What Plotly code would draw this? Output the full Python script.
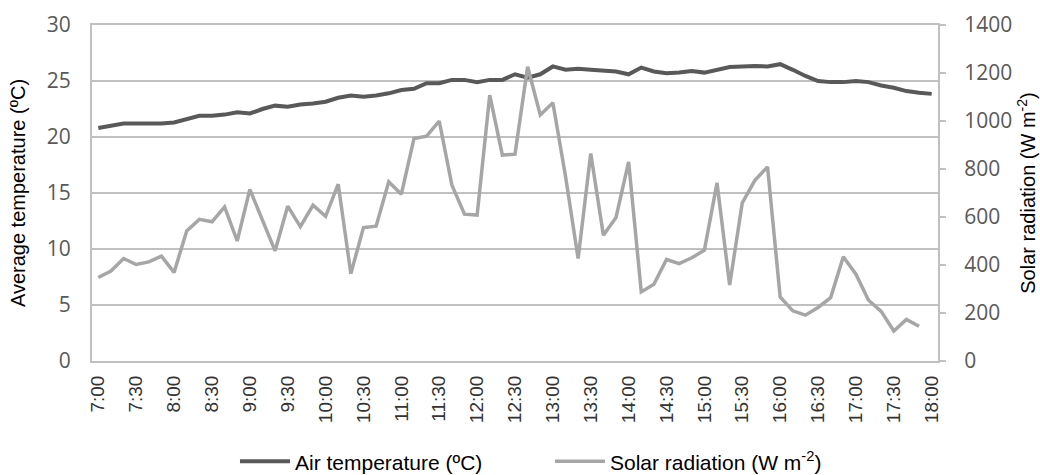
import plotly.graph_objects as go

times = ["7:00","7:10","7:20","7:30","7:40","7:50","8:00","8:10","8:20","8:30","8:40","8:50",
         "9:00","9:10","9:20","9:30","9:40","9:50","10:00","10:10","10:20","10:30","10:40","10:50",
         "11:00","11:10","11:20","11:30","11:40","11:50","12:00","12:10","12:20","12:30","12:40","12:50",
         "13:00","13:10","13:20","13:30","13:40","13:50","14:00","14:10","14:20","14:30","14:40","14:50",
         "15:00","15:10","15:20","15:30","15:40","15:50","16:00","16:10","16:20","16:30","16:40","16:50",
         "17:00","17:10","17:20","17:30","17:40","17:50","18:00"]

air_temperature = [20.8, 21.0, 21.2, 21.2, 21.2, 21.2, 21.3, 21.6, 21.9, 21.9,
                   22.0, 22.2, 22.1, 22.5, 22.8, 22.7, 22.9, 23.0, 23.15, 23.5,
                   23.7, 23.6, 23.7, 23.9, 24.2, 24.3, 24.8, 24.8, 25.1, 25.1,
                   24.9, 25.1, 25.1, 25.6, 25.3, 25.6, 26.3, 26.0, 26.1, 26.0,
                   25.9, 25.85, 25.6, 26.2, 25.85, 25.7, 25.75, 25.9, 25.75, 26.0,
                   26.25, 26.3, 26.35, 26.3, 26.5, 26.0, 25.45, 25.0, 24.9, 24.9,
                   25.0, 24.9, 24.6, 24.4, 24.1, 23.95, 23.85]

solar_radiation = [348, 375, 427, 402, 413, 437, 369, 542, 590, 580,
                   642, 500, 715, 587, 459, 645, 560, 649, 603, 737,
                   364, 556, 562, 747, 695, 927, 937, 1000, 733, 612,
                   608, 1108, 858, 862, 1226, 1025, 1076, 770, 427, 865,
                   524, 598, 830, 288, 320, 423, 406, 430, 462, 742,
                   317, 659, 753, 809, 267, 209, 191, 223, 264, 434,
                   362, 253, 207, 125, 173, 145, None]

tick_labels = ["7:00","7:30","8:00","8:30","9:00","9:30","10:00","10:30","11:00","11:30",
               "12:00","12:30","13:00","13:30","14:00","14:30","15:00","15:30","16:00",
               "16:30","17:00","17:30","18:00"]

x_idx = list(range(len(times)))
tick_idx = [times.index(t) for t in tick_labels]

GRID = "#c0c0c0"
TICKFONT = dict(family="Open Sans, Arial, sans-serif", size=21, color="#595959")
TITLEFONT = dict(family="Liberation Sans, Arial, sans-serif", size=20, color="#000000")

fig = go.Figure()
fig.add_trace(go.Scatter(x=x_idx, y=air_temperature, mode="lines",
                         name="Air temperature (ºC)",
                         line=dict(color="#595959", width=4), yaxis="y"))
fig.add_trace(go.Scatter(x=x_idx, y=solar_radiation, mode="lines",
                         name="Solar radiation (W m<sup>-2</sup>)",
                         line=dict(color="#a6a6a6", width=3.5), yaxis="y2"))

fig.update_layout(
    width=1040, height=475,
    margin=dict(l=92, r=102, t=25, b=114, autoexpand=False),
    paper_bgcolor="white", plot_bgcolor="white",
    showlegend=True,
    legend=dict(orientation="h", x=0.169, xanchor="left",
                yref="container", y=0.028, yanchor="middle",
                font=dict(family="Liberation Sans, Arial, sans-serif", size=21, color="#000000"),
                entrywidth=250, entrywidthmode="pixels", itemwidth=50),
    xaxis=dict(range=[-0.5, len(times) - 0.5], tickmode="array", tickvals=tick_idx,
               ticktext=tick_labels, tickangle=-90, automargin=False,
               tickfont=dict(family="Liberation Sans, Arial, sans-serif", size=19, color="#333333"),
               showgrid=False, zeroline=False, showline=True, linecolor=GRID, linewidth=2,
               mirror=True, ticks="", ticklabelstandoff=5),
    yaxis=dict(range=[0, 30], tickvals=[0, 5, 10, 15, 20, 25, 30], automargin=False,
               tickfont=TICKFONT, showgrid=True, gridcolor=GRID, gridwidth=2,
               zeroline=False, showline=True, linecolor=GRID, linewidth=2,
               ticks="", ticklabelstandoff=15,
               title=dict(text="Average temperature (ºC)", font=TITLEFONT, standoff=16)),
    yaxis2=dict(range=[0, 1400], tickvals=[0, 200, 400, 600, 800, 1000, 1200, 1400],
                overlaying="y", side="right", tickfont=TICKFONT, showgrid=False,
                automargin=False,
                zeroline=False, showline=True, linecolor=GRID, linewidth=2,
                ticks="outside", ticklen=6, tickcolor=GRID, tickwidth=1.5,
                ticklabelstandoff=14,
                title=dict(text="Solar radiation (W m<sup>-2</sup>)", font=TITLEFONT, standoff=10)),
)

fig.write_html("out.html", config={"displayModeBar": False},
               post_script="document.body.style.margin='0';document.body.style.padding='0';")
